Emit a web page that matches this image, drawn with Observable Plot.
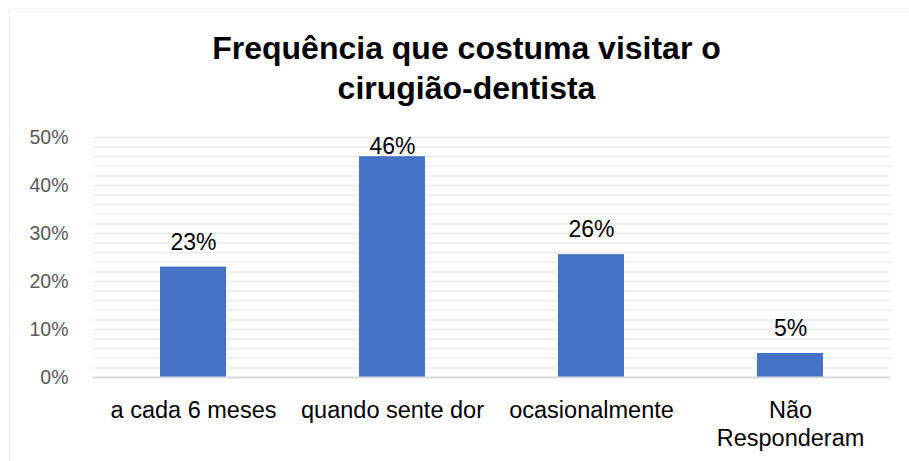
<!DOCTYPE html>
<html>
<head>
<meta charset="utf-8">
<script src="https://cdn.jsdelivr.net/npm/d3@7"></script>
<script src="https://cdn.jsdelivr.net/npm/@observablehq/plot@0.6"></script>
<style>
  html, body { margin: 0; padding: 0; background: #fff; }
  #wrap { position: relative; width: 909px; height: 461px; font-family: "Liberation Sans", Arial, sans-serif; }
  #title { position: absolute; left: 0; width: 933px; top: 28px; text-align: center; font-weight: bold; font-size: 32px; line-height: 40px; color: #000; }
  #chart { position: absolute; left: 0; top: 0; }
  #frame { position: absolute; left: 9px; top: 8px; width: 898px; height: 452px; border: 1px solid #f2f2f2; border-right: none; border-bottom: none; pointer-events: none; }
</style>
</head>
<body>
<div id="wrap">
  <div id="chart"></div>
  <div id="frame"></div>
  <div id="title">Frequência que costuma visitar o<br>cirugião-dentista</div>
</div>
<script>
const categories = ["a cada 6 meses", "quando sente dor", "ocasionalmente", "Não\nResponderam"];
const values = [0.23, 0.46, 0.256, 0.05];
const yTicks = [0, 0.1, 0.2, 0.3, 0.4, 0.5];
const gridLines = [0.02, 0.04, 0.06, 0.08, 0.10, 0.12, 0.14, 0.16, 0.18, 0.20, 0.22, 0.24, 0.26, 0.28, 0.30, 0.32, 0.34, 0.36, 0.38, 0.40, 0.42, 0.44, 0.46, 0.48, 0.50];

const data = categories.map((c, i) => ({category: c, value: values[i]}));
const pct = d3.format(".0%");

const chart = Plot.plot({
  width: 909,
  height: 461,
  marginTop: 137,
  marginBottom: 84,
  marginLeft: 93,
  marginRight: 19,
  style: {fontFamily: "'Liberation Sans', Arial, sans-serif", background: "transparent"},
  x: {domain: categories, paddingInner: 0.67, paddingOuter: 0.335, label: null},
  y: {domain: [0, 0.5], label: null},
  marks: [
    Plot.ruleY(gridLines, {stroke: "#ebebeb", strokeWidth: 1.5}),
    Plot.barY(data, {x: "category", y: "value", fill: "#4472C4"}),
    Plot.ruleY([0], {stroke: "#d9d9d9", strokeWidth: 2}),
    // Excel-style data labels: above the bar, kept inside the plot area
    Plot.text(data, {x: "category", y: d => Math.min(d.value + 0.052, 0.481), text: d => pct(d.value), fontSize: 23, fill: "#000", textAnchor: "middle"}),
    Plot.axisY({ticks: yTicks, tickFormat: pct, tickSize: 0, tickPadding: 25, fontSize: 19.5, fill: "#595959"}),
    Plot.axisX({tickSize: 0, tickPadding: 21, fontSize: 23.5, fill: "#000", lineHeight: 1.18, label: null})
  ]
});
document.getElementById("chart").appendChild(chart);
</script>
</body>
</html>
